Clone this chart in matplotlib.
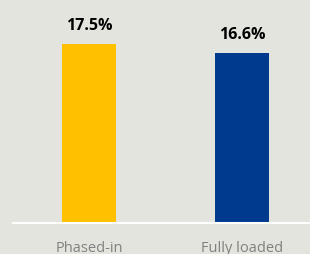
import matplotlib
matplotlib.use('Agg')
import matplotlib.pyplot as plt

categories = ['Phased-in', 'Fully loaded']
values = [17.5, 16.6]
labels = ['17.5%', '16.6%']
colors = ['#ffc000', '#003a8f']

bg = '#e4e4df'
plt.rcParams['font.family'] = ['Open Sans', 'DejaVu Sans']

fig = plt.figure(figsize=(3.1, 2.55), dpi=100, facecolor=bg)
ax = fig.add_axes([13/310, 31/255, 297/310, 224/255], facecolor=bg)

x = [0, 1]
ax.bar(x, values, width=0.353, color=colors, zorder=2)
for xi, v, t in zip(x, values, labels):
    ax.text(xi, v + 1.1, t, ha='center', va='bottom', fontsize=11.5,
            fontweight='bold', color='#000000')

ax.set_xlim(-0.497, 1.444)
ax.set_ylim(0, 21.885)
ax.set_xticks(x)
ax.set_xticklabels(categories, fontsize=10.5, color='#808080')
ax.tick_params(axis='x', length=0, pad=12)
ax.set_yticks([])
for s in ['top', 'right', 'left']:
    ax.spines[s].set_visible(False)
ax.spines['bottom'].set_color('white')
ax.spines['bottom'].set_linewidth(1.5)
ax.spines['bottom'].set_zorder(3)

fig.savefig('out.png', dpi=100, facecolor=bg)
